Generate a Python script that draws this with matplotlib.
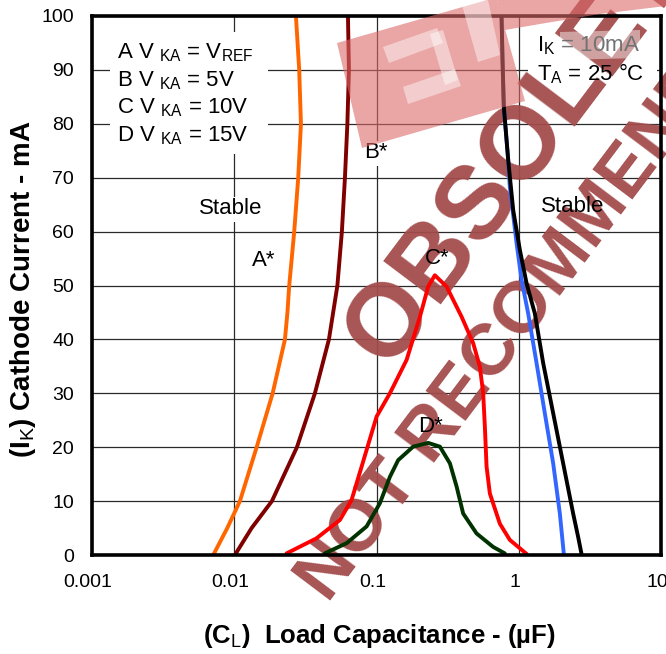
import matplotlib
matplotlib.use('Agg')
import matplotlib.pyplot as plt
import matplotlib.transforms as mtransforms
from matplotlib.patches import Polygon, Rectangle
from matplotlib.ticker import NullLocator

plt.rcParams['font.family'] = ['Liberation Sans', 'DejaVu Sans']
plt.rcParams['mathtext.fontset'] = 'custom'
plt.rcParams['mathtext.rm'] = 'Liberation Sans'
plt.rcParams['mathtext.it'] = 'Liberation Sans:italic'
plt.rcParams['mathtext.bf'] = 'Liberation Sans:bold'

# ---------------- data ----------------
x_ticks = [0.001, 0.01, 0.1, 1, 10]
x_tick_labels = ["0.001", "0.01", "0.1", "1", "10"]
y_ticks = [0, 10, 20, 30, 40, 50, 60, 70, 80, 90, 100]

A_cap = [0.00712, 0.00893, 0.01096, 0.01437, 0.01862, 0.02272, 0.02365, 0.02435, 0.0264, 0.02817,
         0.02943, 0.02862, 0.02714]
A_cur = [0, 5, 10, 20, 30, 40, 45, 50, 60, 70, 80, 90, 100]

B_cap = [0.0101, 0.01325, 0.0184, 0.02758, 0.0369, 0.0463, 0.0531, 0.0571, 0.0600, 0.0624, 0.0640, 0.0630]
B_cur = [0, 5, 10, 20, 30, 40, 50, 60, 70, 80, 90, 100]

C_cap = [0.02333, 0.0379, 0.0553, 0.0668, 0.0786, 0.0924, 0.1002, 0.1242, 0.1628, 0.2020, 0.2308, 0.2571,
         0.3109, 0.3965, 0.4783, 0.5331, 0.5623, 0.5779, 0.5939, 0.6266, 0.7367, 0.8656, 1.135]
C_cur = [0.3, 3.1, 6.5, 10.2, 16.4, 22.6, 25.7, 30.0, 36.2, 44.2, 49.8, 51.9,
         49.8, 44.2, 39.3, 34.9, 30.0, 23.8, 16.4, 11.4, 5.8, 2.8, 0.2]

D_cap = [0.0433, 0.0617, 0.0852, 0.1056, 0.1242, 0.1420, 0.1810, 0.2308, 0.2790, 0.3282, 0.3657, 0.4066,
         0.5050, 0.6603, 0.7980]
D_cur = [0.3, 2.2, 5.3, 9.6, 14.5, 17.6, 20.1, 20.8, 20.1, 17.0, 12.7, 7.7, 4.0, 1.5, 0.3]

black_cap = [0.757, 0.769, 0.785, 0.843, 0.914, 1.018, 1.135, 1.298, 1.485, 1.746, 2.052, 2.412, 2.613, 2.762]
black_cur = [100, 91.8, 83.2, 73.3, 64.0, 56.6, 50.4, 44.8, 35.6, 26.3, 17.0, 7.7, 3.4, 0.2]

blue_cap = [0.757, 0.769, 0.785, 0.843, 0.865, 0.966, 1.047, 1.165, 1.334, 1.525, 1.746, 1.945, 2.074]
blue_cur = [100, 91.8, 83.2, 73.3, 68.3, 57.8, 51.0, 44.8, 35.6, 26.3, 17.0, 7.7, 0.2]

legend_lines = [r"A V $_{\mathrm{KA}}$ = V$_{\mathrm{REF}}$",
                r"B V $_{\mathrm{KA}}$ = 5V",
                r"C V $_{\mathrm{KA}}$ = 10V",
                r"D V $_{\mathrm{KA}}$ = 15V"]
cond_lines = [r"I$_{\mathrm{K}}$ = 10mA", r"T$_{\mathrm{A}}$ = 25 °C"]

# ---------------- figure ----------------
W, H = 666, 654
fig = plt.figure(figsize=(W / 100, H / 100), dpi=100)
ax = fig.add_axes([92 / W, 1 - 555 / H, 569 / W, 539 / H])


def fx(px, py):
    return (px / W, 1 - py / H)


def axp(px, py):
    return ((px - 92) / 569, (555 - py) / 539)


ax.set_xscale('log')
ax.set_xlim(0.001, 10)
ax.set_ylim(0, 100)
ax.set_xticks(x_ticks)
ax.set_xticklabels(x_tick_labels)
ax.xaxis.set_minor_locator(NullLocator())
ax.set_yticks(y_ticks)
ax.tick_params(axis='both', length=0, labelsize=14)
ax.tick_params(axis='x', pad=14)
ax.tick_params(axis='y', pad=13)
shift = mtransforms.ScaledTranslation(-4 / 100, 0, fig.dpi_scale_trans)
for lab in ax.get_xticklabels():
    lab.set_transform(lab.get_transform() + shift)
ax.set_axisbelow(True)
ax.grid(True, color='#2a2a2a', lw=0.9)
for s in ax.spines.values():
    s.set_linewidth(2.6)
    s.set_color('black')
    s.set_zorder(4)

lw = 2.8
kw = dict(lw=lw, solid_capstyle='round', solid_joinstyle='round')
ax.plot(A_cap, A_cur, color='#ff6600', zorder=3, **kw)
ax.plot(B_cap, B_cur, color='#800000', zorder=3, **kw)
ax.plot(C_cap, C_cur, color='#ff0000', zorder=3, **kw)
ax.plot(D_cap, D_cur, color='#003300', zorder=3, **kw)
ax.plot(blue_cap, blue_cur, color='#3366ff', zorder=3, **kw)
ax.plot(black_cap, black_cur, color='black', zorder=3.1, **kw)

# white boxes behind legend / condition text
x0, y0 = axp(110, 154)
x1, y1 = axp(268, 32)
ax.add_patch(Rectangle((x0, y0), x1 - x0, y1 - y0, transform=ax.transAxes,
                       facecolor='white', edgecolor='none', zorder=1))
x0, y0 = axp(528, 95)
x1, y1 = axp(657, 24)
ax.add_patch(Rectangle((x0, y0), x1 - x0, y1 - y0, transform=ax.transAxes,
                       facecolor='white', edgecolor='none', zorder=1))

for i, t in enumerate(legend_lines):
    ax.text(*axp(117, [53, 81, 108, 136][i]), t, transform=ax.transAxes, fontsize=16,
            ha='left', va='center', zorder=5)
for i, t in enumerate(cond_lines):
    ax.text(*axp(537, [46, 74][i]), t, transform=ax.transAxes, fontsize=16,
            ha='left', va='center', zorder=5)

wb = dict(facecolor='white', edgecolor='none', pad=1.5)
ax.text(*axp(231, 209), "Stable", transform=ax.transAxes, fontsize=16, ha='center', va='center',
        zorder=5, bbox=wb)
ax.text(*axp(264, 261), "A*", transform=ax.transAxes, fontsize=16, ha='center', va='center', zorder=5)
ax.text(*axp(376, 153), "B*", transform=ax.transAxes, fontsize=16, ha='center', va='center',
        zorder=5, bbox=wb)
ax.text(*axp(437, 258), "C*", transform=ax.transAxes, fontsize=16, ha='center', va='center', zorder=5)
ax.text(*axp(430, 426), "D*", transform=ax.transAxes, fontsize=16, ha='center', va='center', zorder=5)
ax.text(*axp(573, 206), "Stable", transform=ax.transAxes, fontsize=16, ha='center', va='center', zorder=5)

# axis labels
fig.text(*fx(23, 289), r"(I$_{\mathrm{K}}$) Cathode Current - mA", rotation=90, ha='center', va='center',
         fontsize=20, fontweight='bold')
fig.text(*fx(379, 636), r"(C$_{\mathrm{L}}$)  Load Capacitance - (µF)", ha='center', va='center',
         fontsize=18.5, fontweight='bold')

# watermark
wm = '#a34b4b'
ax.text(*fx(537, 128), "OBSOLETE", transform=fig.transFigure, rotation=53, rotation_mode='anchor',
        ha='center', va='center', fontsize=74, fontweight='bold', color=wm, alpha=0.95,
        zorder=2, clip_on=False)
ax.text(*fx(540, 291), "NOT RECOMMENDED", transform=fig.transFigure, rotation=53, rotation_mode='anchor',
        ha='center', va='center', fontsize=52, fontweight='bold', color=wm, alpha=0.95,
        zorder=2, clip_on=False)


# logo-like pink block
def fpoly(pts):
    return [fx(px, py) for px, py in pts]


for pts in [[(337, 43), (362, 148), (525, 101), (497, 0), (487, 0)],
            [(497, 0), (666, 0), (666, 6), (600, 14), (540, 24), (505, 30)]]:
    ax.add_patch(Polygon(fpoly(pts), closed=True, transform=fig.transFigure, facecolor='#dc6969',
                         edgecolor='none', alpha=0.6, zorder=6, clip_on=False))
for pts in [[(383, 47), (437, 28), (443, 43), (389, 63)],
            [(403, 87), (455, 69), (461, 86), (408, 104)],
            [(430, 34), (443, 30), (458, 80), (445, 85)],
            [(462, 5), (488, 0), (500, 55), (478, 62)],
            [(560, 32), (640, 30), (640, 58), (560, 60)]]:
    ax.add_patch(Polygon(fpoly(pts), closed=True, transform=fig.transFigure, facecolor='white',
                         edgecolor='none', alpha=0.45, zorder=6.1, clip_on=False))

fig.savefig('out.png', dpi=100)
